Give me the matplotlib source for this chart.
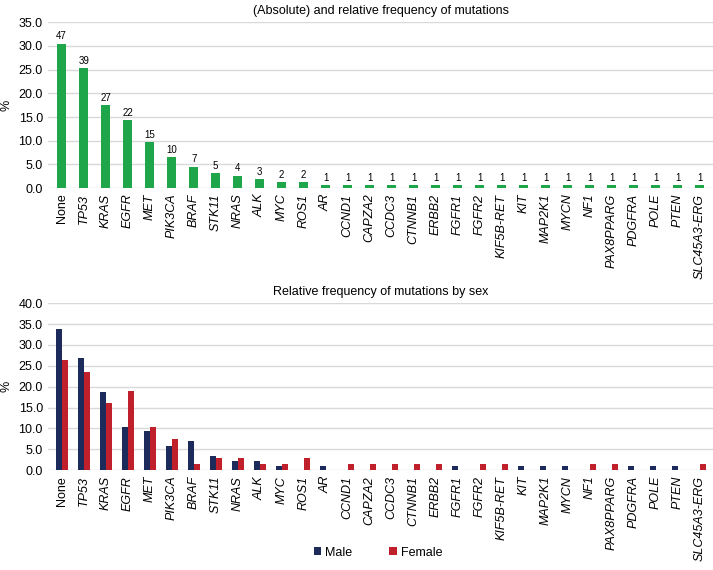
import numpy as np
import matplotlib
matplotlib.use("Agg")
import matplotlib.pyplot as plt

plt.rcParams['font.family'] = ['Liberation Sans', 'DejaVu Sans']

genes = ["None", "TP53", "KRAS", "EGFR", "MET", "PIK3CA", "BRAF", "STK11", "NRAS",
         "ALK", "MYC", "ROS1", "AR", "CCND1", "CAPZA2", "CCDC3", "CTNNB1", "ERBB2",
         "FGFR1", "FGFR2", "KIF5B-RET", "KIT", "MAP2K1", "MYCN", "NF1", "PAX8PPARG",
         "PDGFRA", "POLE", "PTEN", "SLC45A3-ERG"]

counts = [47, 39, 27, 22, 15, 10, 7, 5, 4, 3, 2, 2] + [1] * 18
percent = [30.5, 25.3, 17.5, 14.3, 9.7, 6.5, 4.5, 3.2, 2.6, 1.9, 1.3, 1.3] + [0.65] * 18

male = [33.8, 26.8, 18.7, 10.4, 9.3, 5.8, 6.9, 3.4, 2.3, 2.3, 1.1, 0.0, 1.1, 0.0, 0.0,
        0.0, 0.0, 0.0, 1.1, 0.0, 0.0, 1.1, 1.1, 1.1, 0.0, 0.0, 1.1, 1.1, 1.1, 0.0]
female = [26.5, 23.5, 16.2, 19.1, 10.3, 7.4, 1.5, 2.9, 2.9, 1.5, 1.5, 2.9, 0.0, 1.5, 1.5,
          1.5, 1.5, 1.5, 0.0, 1.5, 1.5, 0.0, 0.0, 0.0, 1.5, 1.5, 0.0, 0.0, 0.0, 1.5]

green = "#1fa64a"
navy = "#1c2a5c"
red = "#c0202b"
grid_col = "#d9d9d9"


def style_axis(ax, ymax, step):
    ax.set_ylim(0, ymax)
    ax.set_yticks(np.arange(0, ymax + 0.01, step))
    ax.set_yticklabels([f"{v:.1f}" for v in np.arange(0, ymax + 0.01, step)], fontsize=9)
    ax.yaxis.grid(True, color=grid_col, linewidth=1)
    ax.set_axisbelow(True)
    for s in ax.spines.values():
        s.set_visible(False)
    ax.tick_params(length=0, pad=4)
    ax.set_xlim(-0.6, len(genes) - 0.4)
    ax.set_xticks(np.arange(len(genes)))
    ax.set_xticklabels(genes, rotation=90, fontsize=9)
    for lbl in ax.get_xticklabels():
        if lbl.get_text() != "None":
            lbl.set_fontstyle("italic")
    ax.set_ylabel("%", fontsize=9, labelpad=4)


fig = plt.figure(figsize=[7.13, 5.70], dpi=100)
ax1 = fig.add_axes([0.068, 0.670, 0.932, 0.291])
ax2 = fig.add_axes([0.068, 0.175, 0.932, 0.293])

x = np.arange(len(genes))
ax1.bar(x, percent, width=0.42, color=green)
for xi, p, c in zip(x, percent, counts):
    ax1.text(xi, p + 0.5, str(c), ha="center", va="bottom", fontsize=7)
style_axis(ax1, 35, 5)
ax1.set_title("(Absolute) and relative frequency of mutations", fontsize=9, pad=6)

w = 0.28
ax2.bar(x - w / 2, male, width=w, color=navy, label="Male")
ax2.bar(x + w / 2, female, width=w, color=red, label="Female")
style_axis(ax2, 40, 5)
ax2.set_title("Relative frequency of mutations by sex", fontsize=9, pad=6)

fig.legend(loc="lower center", bbox_to_anchor=(0.53, 0.0), ncol=2, frameon=False,
           fontsize=9, handlelength=0.6, handleheight=0.6, columnspacing=3, handletextpad=0.3)

fig.savefig("out.png", dpi=100)
